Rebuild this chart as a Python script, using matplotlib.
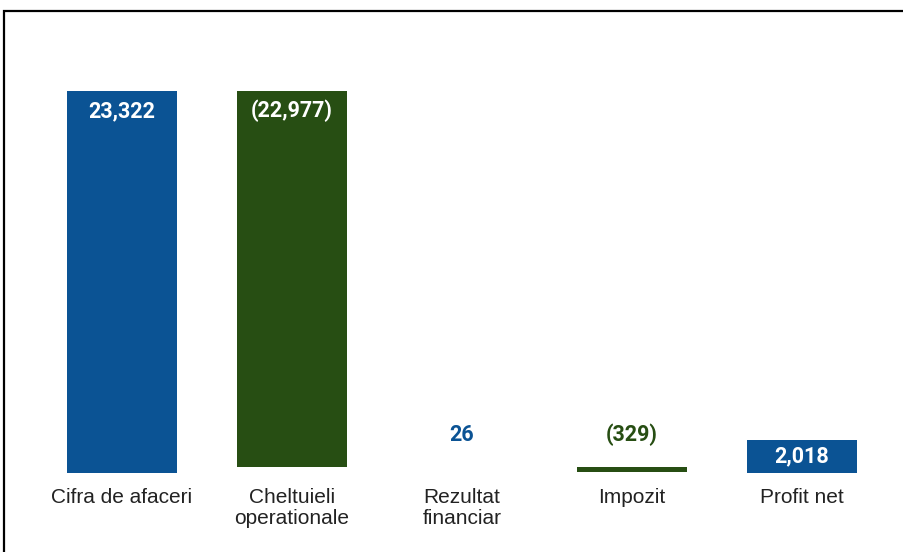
import matplotlib.pyplot as plt
from matplotlib.patches import Rectangle
import numpy as np

# waterfall data
categories = ["Cifra de afaceri", "Cheltuieli\noperationale", "Rezultat\nfinanciar", "Impozit", "Profit net"]
values = [23322, -22977, 26, -329, 2018]
is_total = [False, False, False, False, True]
value_labels = ["23,322", "(22,977)", "26", "(329)", "2,018"]

blue = '#0b5394'
green = '#274e13'

W, H = 904, 552
fig = plt.figure(figsize=(W / 100, H / 100), dpi=100)

# axes placed in pixel terms
left_px, right_px = 37, 887
base_px, top_px = 473, 80
ax = fig.add_axes([left_px / W, (H - base_px) / H, (right_px - left_px) / W, (base_px - top_px) / H])

ymax = 24000
x = np.arange(len(categories))
bottoms = []
heights = []
running = 0
for v, tot in zip(values, is_total):
    if tot:
        bottoms.append(0)
        heights.append(v)
        running = v
    else:
        start = running
        running = running + v
        bottoms.append(min(start, running))
        heights.append(abs(v))

colors = [blue if v >= 0 else green for v in values]
ax.bar(x, heights, bottom=bottoms, width=0.65, color=colors, edgecolor='none')

ax.set_xlim(-0.5, len(categories) - 0.5)
ax.set_ylim(0, ymax)

px_per_unit = (base_px - top_px) / ymax
for i in range(len(categories)):
    h_px = heights[i] * px_per_unit
    top = bottoms[i] + heights[i]
    if h_px > 60:
        ax.annotate(value_labels[i], (x[i], top), xytext=(0, -14.5), textcoords='offset points',
                    ha='center', va='center', color='white', fontsize=15.5,
                    fontweight='bold', family='Roboto')
    elif h_px > 20:
        ax.annotate(value_labels[i], (x[i], bottoms[i] + heights[i] / 2), ha='center', va='center',
                    color='white', fontsize=15.5, fontweight='bold', family='Roboto')
    else:
        ax.annotate(value_labels[i], (x[i], top), xytext=(0, 23), textcoords='offset points',
                    ha='center', va='center', color=colors[i], fontsize=15.5,
                    fontweight='bold', family='Roboto')

ax.set_xticks(x)
ax.set_xticklabels(categories, fontsize=15, family='Liberation Sans', color='#222222', linespacing=1.1)
ax.tick_params(axis='x', length=0, pad=11)
ax.set_yticks([])
for s in ax.spines.values():
    s.set_visible(False)

# outer frame of the chart image
frame = Rectangle((4.5 / W, -0.1), 1.2, 1.1 - 10.5 / H, transform=fig.transFigure,
                  fill=False, edgecolor='black', linewidth=1.6, clip_on=False)
fig.patches.append(frame)

fig.savefig('out.png', dpi=100)
